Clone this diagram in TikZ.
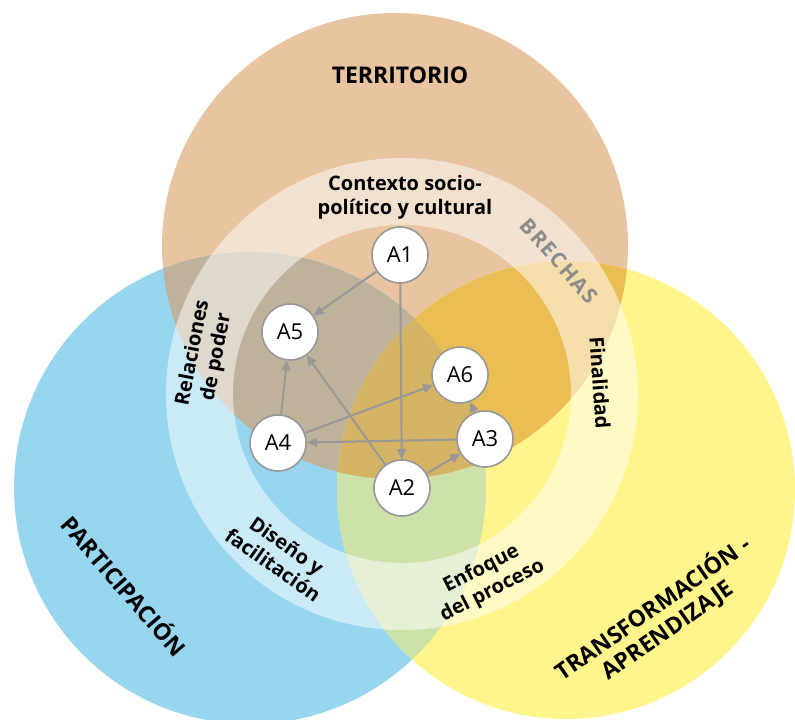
\documentclass[tikz,border=0pt]{standalone}
\usepackage{fontspec}
\setmainfont{Open Sans}
\usetikzlibrary{arrows.meta}

\definecolor{terr}{RGB}{232,196,160}
\definecolor{part}{RGB}{152,214,240}
\definecolor{trans}{RGB}{255,245,140}
\definecolor{terrpart}{RGB}{190,178,155}
\definecolor{terrtrans}{RGB}{235,190,85}
\definecolor{parttrans}{RGB}{205,225,170}
\definecolor{allthree}{RGB}{212,180,100}
\definecolor{edgegray}{RGB}{152,152,152}
\definecolor{labelgray}{RGB}{140,140,140}

\pgfdeclarelayer{domains}
\pgfdeclarelayer{links}
\pgfsetlayers{domains,links,main}

\tikzset{
  actor/.style={circle, draw=edgegray, line width=1.6pt, fill=white,
    minimum size=56pt, inner sep=0pt, font=\fontsize{22}{22}\selectfont},
  link/.style={draw=edgegray, line width=2pt,
    -{Triangle[length=10pt,width=9pt]}},
  biglabel/.style={font=\bfseries\fontsize{23}{26}\selectfont, align=center},
  ringlabel/.style={font=\bfseries\fontsize{20}{24}\selectfont, align=center},
}

\begin{document}
\begin{tikzpicture}[x=1pt,y=-1pt]
\useasboundingbox (0,0) rectangle (795,720);

% the three domains
\def\terrc{(395,246) circle[radius=233]}
\def\partc{(250,488) circle[radius=236]}
\def\transc{(566,490) circle[radius=229]}

\begin{pgfonlayer}{domains}
\begin{scope}
  \clip (0,0) rectangle (795,720);
  \fill[terr] \terrc;
  \fill[part] \partc;
  \fill[trans] \transc;
  % pairwise overlaps
  \begin{scope}
    \clip \terrc;
    \fill[terrpart] \partc;
  \end{scope}
  \begin{scope}
    \clip \terrc;
    \fill[terrtrans] \transc;
  \end{scope}
  \begin{scope}
    \clip \partc;
    \fill[parttrans] \transc;
  \end{scope}
  % common core
  \begin{scope}
    \clip \terrc;
    \clip \partc;
    \fill[allthree] \transc;
  \end{scope}
  % translucent ring of gaps
  \fill[white, opacity=0.5, even odd rule]
    (402,394) circle[radius=236] (402,394) circle[radius=169];
\end{scope}
\end{pgfonlayer}

% domain titles
\node[biglabel] (territorio) at (400,75) {TERRITORIO};
\node[biglabel, rotate=-49] (participacion) at (125,585) {PARTICIPACIÓN};
\node[biglabel, rotate=35] (transformacion) at (660,619)
  {TRANSFORMACIÓN -\\APRENDIZAJE};

% ring labels
\node[ringlabel] (contexto) at (405,197) {Contexto socio-\\político y cultural};
\node[ringlabel, rotate=79] (relaciones) at (205,355) {Relaciones\\de poder};
\node[ringlabel, rotate=-86] (finalidad) at (600,383) {Finalidad};
\node[ringlabel, rotate=-35] (diseno) at (280,555) {Diseño y\\facilitación};
\node[ringlabel, rotate=27] (enfoque) at (487,580) {Enfoque\\del proceso};
\node[font=\bfseries\fontsize{21}{21}\selectfont\addfontfeature{LetterSpace=8},
  text=labelgray, rotate=-49] (brechas) at (559,261) {BRECHAS};

% actors
\node[actor] (A1) at (400,255) {A1};
\node[actor] (A5) at (290,332) {A5};
\node[actor] (A6) at (460,375) {A6};
\node[actor] (A4) at (278,443) {A4};
\node[actor] (A3) at (485,439) {A3};
\node[actor] (A2) at (402,488) {A2};

% relations between actors
\begin{pgfonlayer}{links}
\draw[link] (A1) -- (A5);
\draw[link] (A1) -- (A2);
\draw[link] (A4) -- (A5);
\draw[link] (A2) -- (A5);
\draw[link] (A4) -- (A6);
\draw[link] (A3) -- (A4);
\draw[link] (A3) -- (A6);
\draw[link] (A2) -- (A3);
\end{pgfonlayer}
\end{tikzpicture}
\end{document}
